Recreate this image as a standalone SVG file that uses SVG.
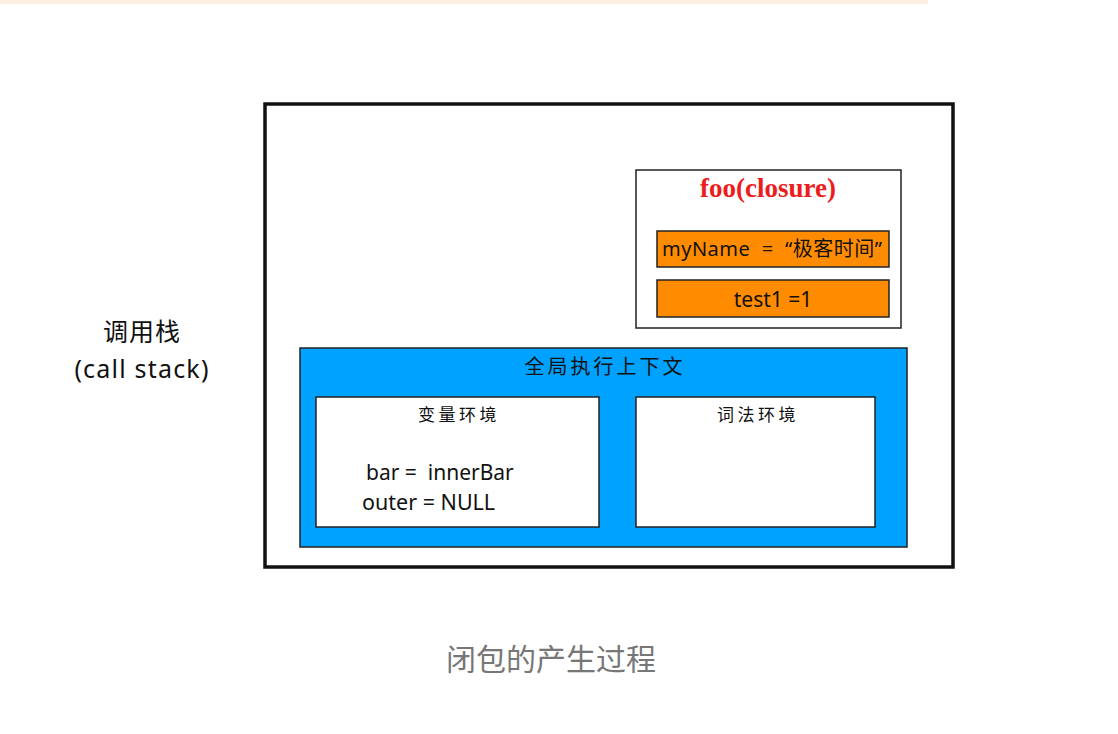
<svg xmlns="http://www.w3.org/2000/svg" width="1118" height="734" viewBox="0 0 1118 734">
<style>
.t{font-family:"Noto Sans","Noto Sans CJK SC",sans-serif;fill:#111}
.box{stroke:#222;stroke-width:1.5}
</style>
<rect x="0" y="0" width="1118" height="734" fill="#fff"/>
<rect x="0" y="0" width="928" height="4" fill="#fdf0e2"/>
<g id="callstack">
<rect x="265" y="104" width="688" height="463" fill="#fff" stroke="#111" stroke-width="3.5"/>
<text class="t" x="142" y="341" font-size="25" letter-spacing="1" text-anchor="middle">调用栈</text>
<text class="t" x="142" y="378" font-size="25" letter-spacing="1.2" text-anchor="middle">(call stack)</text>
</g>
<g id="closure">
<rect x="636" y="170" width="265" height="158" fill="#fff" class="box"/>
<text x="768" y="197" font-family="Liberation Serif,serif" font-weight="bold" font-size="27" fill="#ee1c1c" text-anchor="middle">foo(closure)</text>
<rect x="657" y="231" width="232" height="36" fill="#ff8c00" class="box"/>
<text class="t" x="662" y="256" font-size="20" xml:space="preserve" letter-spacing="0.5">myName  =  “极客时间”</text>
<rect x="657" y="280" width="232" height="37" fill="#ff8c00" class="box"/>
<text class="t" x="773" y="307" font-size="21" text-anchor="middle">test1 =1</text>
</g>
<g id="global">
<rect x="300" y="348" width="607" height="199" fill="#00a2ff" class="box"/>
<text class="t" x="605" y="374" font-size="20" letter-spacing="3" text-anchor="middle">全局执行上下文</text>
</g>
<g id="varenv">
<rect x="316" y="397" width="283" height="130" fill="#fff" class="box"/>
<text class="t" x="459" y="421" font-size="17" letter-spacing="3.5" text-anchor="middle">变量环境</text>
<text class="t" x="366" y="480" font-size="21" xml:space="preserve">bar =  innerBar</text>
<text class="t" x="362" y="510" font-size="21.5">outer = NULL</text>
</g>
<g id="lexenv">
<rect x="636" y="397" width="239" height="130" fill="#fff" class="box"/>
<text class="t" x="758" y="421" font-size="17" letter-spacing="3.5" text-anchor="middle">词法环境</text>
</g>
<g id="connectors"></g>
<text x="551" y="670" font-family="Noto Sans CJK SC,sans-serif" font-size="30" fill="#777" text-anchor="middle">闭包的产生过程</text>
</svg>
